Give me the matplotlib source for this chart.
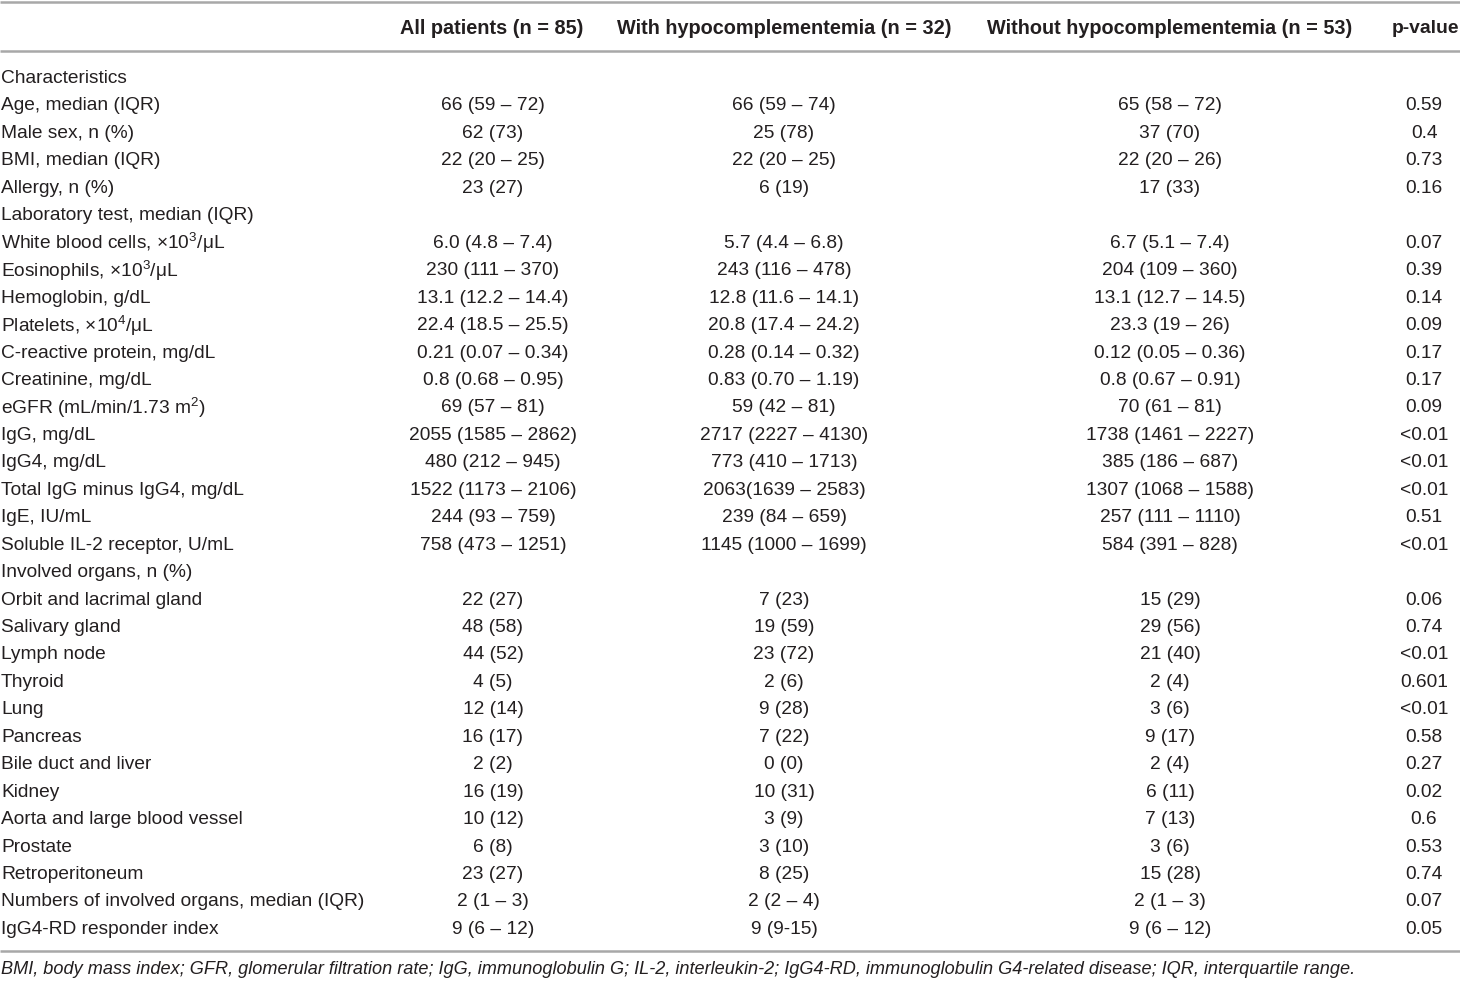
import matplotlib
matplotlib.use("Agg")
import matplotlib.pyplot as plt

plt.rcParams['font.family'] = ['Liberation Sans', 'DejaVu Sans']
plt.rcParams['mathtext.fontset'] = 'custom'
plt.rcParams['mathtext.rm'] = 'Liberation Sans'
plt.rcParams['mathtext.it'] = 'Liberation Sans:italic'
plt.rcParams['mathtext.bf'] = 'Liberation Sans:bold'

headers = ["All patients (n = 85)", "With hypocomplementemia (n = 32)",
           "Without hypocomplementemia (n = 53)", "p-value"]

labels = [
    "Characteristics",
    "Age, median (IQR)",
    "Male sex, n (%)",
    "BMI, median (IQR)",
    "Allergy, n (%)",
    "Laboratory test, median (IQR)",
    r"White blood cells, ×10$\mathregular{^3}$/μL",
    r"Eosinophils, ×10$\mathregular{^3}$/μL",
    "Hemoglobin, g/dL",
    r"Platelets, ×10$\mathregular{^4}$/μL",
    "C-reactive protein, mg/dL",
    "Creatinine, mg/dL",
    r"eGFR (mL/min/1.73 m$\mathregular{^2}$)",
    "IgG, mg/dL",
    "IgG4, mg/dL",
    "Total IgG minus IgG4, mg/dL",
    "IgE, IU/mL",
    "Soluble IL-2 receptor, U/mL",
    "Involved organs, n (%)",
    "Orbit and lacrimal gland",
    "Salivary gland",
    "Lymph node",
    "Thyroid",
    "Lung",
    "Pancreas",
    "Bile duct and liver",
    "Kidney",
    "Aorta and large blood vessel",
    "Prostate",
    "Retroperitoneum",
    "Numbers of involved organs, median (IQR)",
    "IgG4-RD responder index",
]

all_patients = [
    "", "66 (59 – 72)", "62 (73)", "22 (20 – 25)", "23 (27)", "",
    "6.0 (4.8 – 7.4)", "230 (111 – 370)", "13.1 (12.2 – 14.4)", "22.4 (18.5 – 25.5)",
    "0.21 (0.07 – 0.34)", "0.8 (0.68 – 0.95)", "69 (57 – 81)", "2055 (1585 – 2862)",
    "480 (212 – 945)", "1522 (1173 – 2106)", "244 (93 – 759)", "758 (473 – 1251)", "",
    "22 (27)", "48 (58)", "44 (52)", "4 (5)", "12 (14)", "16 (17)", "2 (2)", "16 (19)",
    "10 (12)", "6 (8)", "23 (27)", "2 (1 – 3)", "9 (6 – 12)",
]

with_hypo = [
    "", "66 (59 – 74)", "25 (78)", "22 (20 – 25)", "6 (19)", "",
    "5.7 (4.4 – 6.8)", "243 (116 – 478)", "12.8 (11.6 – 14.1)", "20.8 (17.4 – 24.2)",
    "0.28 (0.14 – 0.32)", "0.83 (0.70 – 1.19)", "59 (42 – 81)", "2717 (2227 – 4130)",
    "773 (410 – 1713)", "2063(1639 – 2583)", "239 (84 – 659)", "1145 (1000 – 1699)", "",
    "7 (23)", "19 (59)", "23 (72)", "2 (6)", "9 (28)", "7 (22)", "0 (0)", "10 (31)",
    "3 (9)", "3 (10)", "8 (25)", "2 (2 – 4)", "9 (9-15)",
]

without_hypo = [
    "", "65 (58 – 72)", "37 (70)", "22 (20 – 26)", "17 (33)", "",
    "6.7 (5.1 – 7.4)", "204 (109 – 360)", "13.1 (12.7 – 14.5)", "23.3 (19 – 26)",
    "0.12 (0.05 – 0.36)", "0.8 (0.67 – 0.91)", "70 (61 – 81)", "1738 (1461 – 2227)",
    "385 (186 – 687)", "1307 (1068 – 1588)", "257 (111 – 1110)", "584 (391 – 828)", "",
    "15 (29)", "29 (56)", "21 (40)", "2 (4)", "3 (6)", "9 (17)", "2 (4)", "6 (11)",
    "7 (13)", "3 (6)", "15 (28)", "2 (1 – 3)", "9 (6 – 12)",
]

p_values = [
    "", "0.59", "0.4", "0.73", "0.16", "",
    "0.07", "0.39", "0.14", "0.09", "0.17", "0.17", "0.09", "<0.01", "<0.01", "<0.01",
    "0.51", "<0.01", "",
    "0.06", "0.74", "<0.01", "0.601", "<0.01", "0.58", "0.27", "0.02", "0.6", "0.53",
    "0.74", "0.07", "0.05",
]

footnote = ("BMI, body mass index; GFR, glomerular filtration rate; IgG, immunoglobulin G; "
            "IL-2, interleukin-2; IgG4-RD, immunoglobulin G4-related disease; IQR, interquartile range.")

W, H = 1460, 982
fig = plt.figure(figsize=(W / 100, H / 100), dpi=100)
ax = fig.add_axes([0, 0, 1, 1])
ax.set_xlim(0, W)
ax.set_ylim(H, 0)
ax.axis("off")

fs = 13.8
txt_color = "#231f20"
line_color = "#a8a8a8"

col_x = [493, 784, 1170, 1424]
head_x = [492, 784, 1170]

# rules
for y in (1.5, 50.5, 950.5):
    ax.plot([0, W], [y, y], color=line_color, lw=1.8, solid_capstyle="butt")

# header
for x, h in zip(head_x, headers[:3]):
    ax.text(x, 28.5, h, ha="center", va="center", fontsize=14.3, fontweight="bold",
            color=txt_color)
ax.text(1459, 28.5, headers[3], ha="right", va="center", fontsize=13.9,
        fontweight="bold", color=txt_color)

y0, dy = 78.5, 27.45
columns = [all_patients, with_hypo, without_hypo, p_values]
for i, lab in enumerate(labels):
    y = y0 + i * dy
    ax.text(1, y, lab, ha="left", va="center", fontsize=fs, color=txt_color)
    for x, col in zip(col_x, columns):
        if col[i]:
            ax.text(x, y, col[i], ha="center", va="center", fontsize=fs, color=txt_color)

ax.text(1, 970, footnote, ha="left", va="center", fontsize=13.05, style="italic",
        color=txt_color)

fig.savefig("out.png", dpi=100)
